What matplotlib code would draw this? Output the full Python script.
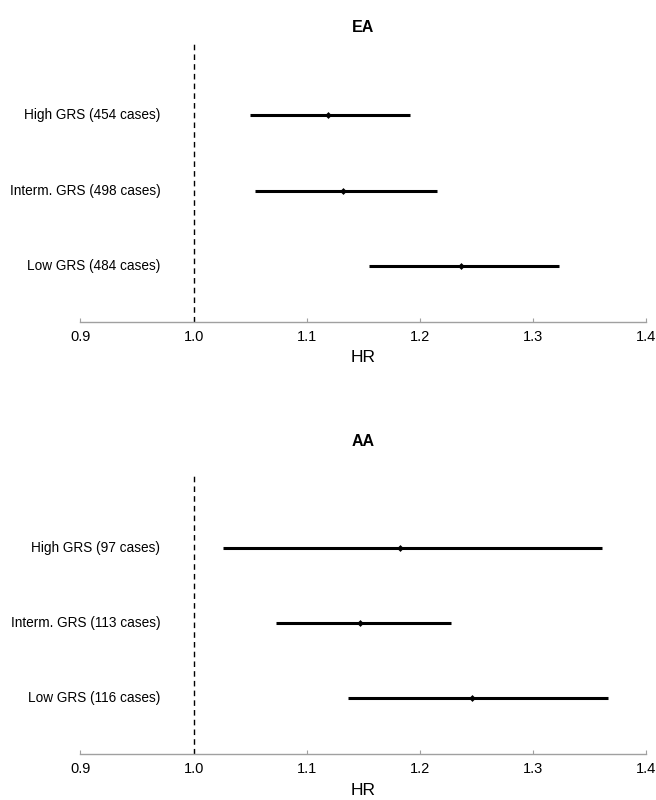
import numpy as np
import matplotlib
matplotlib.use("Agg")
import matplotlib.pyplot as plt

plt.rcParams['font.family'] = ['Liberation Sans', 'DejaVu Sans']

# EA panel
ea_labels = ["High GRS (454 cases)", "Interm. GRS (498 cases)", "Low GRS (484 cases)"]
ea_hr = [1.119, 1.132, 1.236]
ea_lo = [1.050, 1.054, 1.155]
ea_hi = [1.191, 1.215, 1.323]

# AA panel
aa_labels = ["High GRS (97 cases)", "Interm. GRS (113 cases)", "Low GRS (116 cases)"]
aa_hr = [1.182, 1.147, 1.246]
aa_lo = [1.026, 1.073, 1.136]
aa_hi = [1.361, 1.227, 1.366]

xticks = [0.9, 1.0, 1.1, 1.2, 1.3, 1.4]


def forest(ax, labels, hr, lo, hi, xlabelpad):
    ypos = np.arange(len(labels))[::-1] + 1
    hr = np.array(hr)
    err = [hr - np.array(lo), np.array(hi) - hr]
    ax.errorbar(hr, ypos, xerr=err, fmt='D', color='black', ms=3.5,
                mew=0, elinewidth=2.2, capsize=0)
    ax.axvline(1.0, color='black', ls=(0, (4, 3)), lw=1)
    ax.set_xlim(0.9, 1.4)
    ax.set_ylim(0.26, 3.95)
    ax.set_xticks(xticks)
    ax.set_xticklabels([f"{t:.1f}" for t in xticks])
    ax.set_yticks([])
    # row labels sit inside the plot area, left of the reference line
    for y, lab in zip(ypos, labels):
        ax.text(0.9705, y, lab, ha='right', va='center', fontsize=9.8)
    ax.tick_params(axis='x', direction='in', length=3, color='#a0a0a0',
                   labelsize=10.5, pad=6)
    for s in ['top', 'right', 'left']:
        ax.spines[s].set_visible(False)
    ax.spines['bottom'].set_color('#a0a0a0')
    ax.spines['bottom'].set_linewidth(1)
    ax.set_xlabel("HR", fontsize=12.5, labelpad=xlabelpad)


fig = plt.figure(figsize=(6.56, 8), dpi=100)
ax1 = fig.add_axes([0.1227, 0.5975, 0.8628, 0.3485])
ax2 = fig.add_axes([0.1227, 0.0575, 0.8628, 0.3475])

forest(ax1, ea_labels, ea_hr, ea_lo, ea_hi, 4)
forest(ax2, aa_labels, aa_hr, aa_lo, aa_hi, 5)

fig.text(0.5535, 1 - 27 / 800, "EA", ha='center', va='center',
         fontsize=11.5, fontweight='bold')
fig.text(0.5535, 1 - 441 / 800, "AA", ha='center', va='center',
         fontsize=11.5, fontweight='bold')

fig.savefig("out.png", dpi=100)
